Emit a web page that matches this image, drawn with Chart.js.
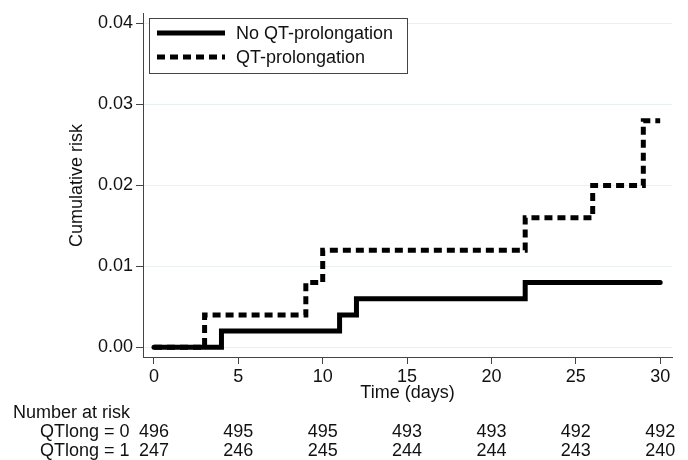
<!DOCTYPE html>
<html>
<head>
<meta charset="utf-8">
<title>Cumulative risk</title>
<script src="https://cdn.jsdelivr.net/npm/chart.js@4.4.1/dist/chart.umd.min.js"></script>
<style>
  html, body { margin: 0; padding: 0; background: #fff; }
  #wrap { width: 688px; height: 460px; position: relative; }
</style>
</head>
<body>
<div id="wrap"><canvas id="kmChart"></canvas></div>
<script>
// Kaplan-Meier style cumulative risk
const noQtTimes = [0, 4, 11, 12, 22, 30];
const noQtRisk = [0, 0.002, 0.004, 0.006, 0.008, 0.008];

const qtTimes = [0, 3, 9, 10, 22, 26, 29, 30];
const qtRisk = [0, 0.004, 0.008, 0.012, 0.016, 0.020, 0.028, 0.028];

const xTicks = [0, 5, 10, 15, 20, 25, 30];
const yTicks = [0, 0.01, 0.02, 0.03, 0.04];

// number at risk table
const riskTimes = [0, 5, 10, 15, 20, 25, 30];
const atRiskNoQt = [496, 495, 495, 493, 493, 492, 492];
const atRiskQt = [247, 246, 245, 244, 244, 243, 240];

const seriesNames = ['No QT-prolongation', 'QT-prolongation'];
const rowLabels = ['QTlong = 0', 'QTlong = 1'];

const FONT = '"Liberation Sans", Arial, sans-serif';
const FONT_SIZE = 18;
const TEXT = '#111111';
const AXIS = '#444444';

function toPoints(xs, ys) {
    return xs.map((x, i) => ({ x: x, y: ys[i] }));
}

const extrasPlugin = {
    id: 'extras',
    afterDraw(chart) {
        const ctx = chart.ctx;
        const xScale = chart.scales.x;

        // legend box
        ctx.save();
        ctx.fillStyle = '#ffffff';
        ctx.fillRect(149.5, 18.5, 258, 55);
        ctx.strokeStyle = AXIS;
        ctx.lineWidth = 1;
        ctx.strokeRect(149.5, 18.5, 258, 55);

        const rows = [33, 57];
        chart.data.datasets.forEach((ds, i) => {
            ctx.beginPath();
            ctx.strokeStyle = ds.borderColor;
            ctx.lineWidth = ds.borderWidth;
            ctx.setLineDash(ds.borderDash || []);
            ctx.lineCap = 'butt';
            ctx.moveTo(157, rows[i]);
            ctx.lineTo(225, rows[i]);
            ctx.stroke();
            ctx.setLineDash([]);
            ctx.fillStyle = TEXT;
            ctx.font = FONT_SIZE + 'px ' + FONT;
            ctx.textAlign = 'left';
            ctx.textBaseline = 'middle';
            ctx.fillText(ds.label, 236, rows[i] + 1);
        });

        // number at risk
        ctx.font = FONT_SIZE + 'px ' + FONT;
        ctx.fillStyle = TEXT;
        ctx.textBaseline = 'middle';
        ctx.textAlign = 'left';
        ctx.fillText('Number at risk', 13, 413);
        ctx.fillText(rowLabels[0], 40, 432);
        ctx.fillText(rowLabels[1], 40, 451);
        ctx.textAlign = 'center';
        riskTimes.forEach((t, i) => {
            const px = xScale.getPixelForValue(t);
            ctx.fillText(String(atRiskNoQt[i]), px, 432);
            ctx.fillText(String(atRiskQt[i]), px, 451);
        });
        ctx.restore();
    }
};

const ctx = document.getElementById('kmChart').getContext('2d');
new Chart(ctx, {
    type: 'line',
    data: {
        datasets: [
            {
                label: seriesNames[0],
                data: toPoints(noQtTimes, noQtRisk),
                stepped: true,
                borderColor: '#000000',
                borderWidth: 5,
                borderCapStyle: 'round',
                borderJoinStyle: 'miter',
                pointRadius: 0,
                fill: false
            },
            {
                label: seriesNames[1],
                data: toPoints(qtTimes, qtRisk),
                stepped: true,
                borderColor: '#000000',
                borderWidth: 5,
                borderDash: [8, 5],
                borderCapStyle: 'butt',
                borderJoinStyle: 'miter',
                pointRadius: 0,
                fill: false
            }
        ]
    },
    options: {
        responsive: true,
        maintainAspectRatio: false,
        animation: false,
        layout: {
            padding: { top: 13, right: 16, left: 0, bottom: 0 }
        },
        plugins: {
            legend: { display: false },
            tooltip: { enabled: false }
        },
        scales: {
            x: {
                type: 'linear',
                min: -0.65,
                max: 30.7,
                afterBuildTicks: (scale) => {
                    scale.ticks = xTicks.map(v => ({ value: v }));
                },
                afterFit: (scale) => {
                    scale.height = 103;
                },
                grid: {
                    drawOnChartArea: false,
                    drawTicks: true,
                    tickLength: 7,
                    tickColor: AXIS
                },
                border: { display: true, color: AXIS, width: 1 },
                ticks: {
                    color: TEXT,
                    padding: 2,
                    maxRotation: 0,
                    font: { family: FONT, size: FONT_SIZE }
                },
                title: {
                    display: true,
                    text: 'Time (days)',
                    color: TEXT,
                    font: { family: FONT, size: FONT_SIZE },
                    padding: { top: 0, bottom: 56.2 }
                }
            },
            y: {
                type: 'linear',
                min: -0.0012,
                max: 0.0412,
                afterBuildTicks: (scale) => {
                    scale.ticks = yTicks.map(v => ({ value: v }));
                },
                afterFit: (scale) => {
                    scale.width = 143;
                },
                grid: {
                    color: '#e8f0f2',
                    lineWidth: 1,
                    drawTicks: true,
                    tickLength: 7,
                    tickColor: AXIS
                },
                border: { display: true, color: AXIS, width: 1 },
                ticks: {
                    color: TEXT,
                    padding: 3,
                    font: { family: FONT, size: FONT_SIZE },
                    callback: function(value) {
                        return value.toFixed(2);
                    }
                },
                title: {
                    display: true,
                    text: 'Cumulative risk',
                    color: TEXT,
                    font: { family: FONT, size: FONT_SIZE },
                    padding: { top: 66.2, bottom: 0 }
                }
            }
        }
    },
    plugins: [extrasPlugin]
});
</script>
</body>
</html>
